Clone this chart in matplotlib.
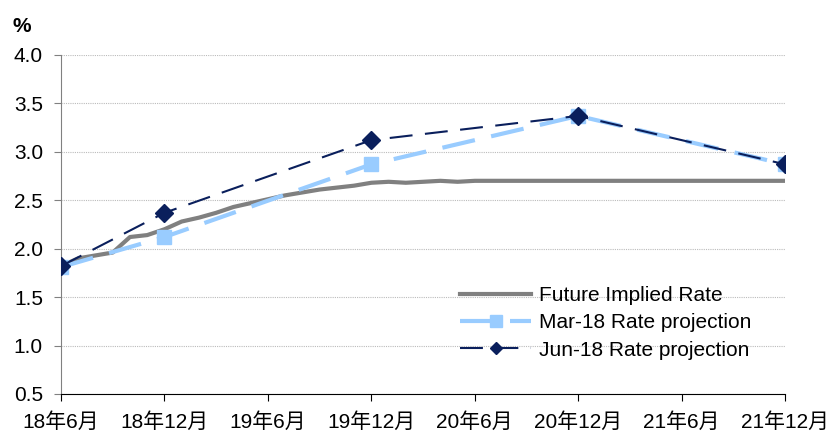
import matplotlib
matplotlib.use("Agg")
import matplotlib.pyplot as plt

plt.rcParams['font.family'] = ['Liberation Sans', 'Noto Sans CJK SC', 'DejaVu Sans']

# months since Jun-2018
tick_labels = ["18年6月", "18年12月", "19年6月", "19年12月", "20年6月", "20年12月", "21年6月", "21年12月"]
tick_months = [0, 6, 12, 18, 24, 30, 36, 42]

future_months = list(range(43))
future_rate = [1.82, 1.90, 1.93, 1.96, 2.12, 2.14, 2.20, 2.28, 2.32, 2.37,
               2.43, 2.47, 2.51, 2.55, 2.58, 2.61, 2.63, 2.65, 2.68, 2.69,
               2.68, 2.69, 2.70, 2.69, 2.70, 2.70, 2.70, 2.70, 2.70, 2.70,
               2.70, 2.70, 2.70, 2.70, 2.70, 2.70, 2.70, 2.70, 2.70, 2.70,
               2.70, 2.70, 2.70]

proj_months = [0, 6, 18, 30, 42]
mar18 = [1.81, 2.12, 2.87, 3.37, 2.87]
jun18 = [1.82, 2.37, 3.12, 3.37, 2.87]

fig = plt.figure(figsize=(8.29, 4.32), dpi=100)
ax = fig.add_axes([0.0736, 0.088, 0.8735, 0.785])

ax.plot(future_months, future_rate, color="#808080", lw=3, label="Future Implied Rate", zorder=2)
ax.plot(proj_months, mar18, color="#99CCFF", lw=3, dashes=(8, 4), marker="s", markersize=10,
        label="Mar-18 Rate projection", zorder=3)
ax.plot(proj_months, jun18, color="#0A1F5C", lw=1.5, dashes=(11, 6), marker="D", markersize=9,
        label="Jun-18 Rate projection", zorder=4)

ax.set_xlim(0, 42)
ax.set_ylim(0.5, 4.0)
ax.set_xticks(tick_months)
ax.set_xticklabels(tick_labels)
ax.set_yticks([0.5, 1.0, 1.5, 2.0, 2.5, 3.0, 3.5, 4.0])
ax.set_yticklabels(["0.5", "1.0", "1.5", "2.0", "2.5", "3.0", "3.5", "4.0"])
ax.tick_params(labelsize=15, length=5, colors="#000000")
ax.tick_params(axis="y", color="#808080", pad=8)
ax.tick_params(axis="x", pad=8)

ax.grid(axis="y", color="#BBBBBB", linestyle=(0, (1, 1)), lw=0.8)
ax.set_axisbelow(True)
for s in ["top", "right"]:
    ax.spines[s].set_visible(False)
ax.spines["left"].set_color("#808080")
ax.spines["bottom"].set_color("#000000")

fig.text(0.015, 0.925, "%", fontsize=15, fontweight="bold")

leg = ax.legend(loc="lower left", bbox_to_anchor=(0.54, 0.077), frameon=False, fontsize=15,
                handlelength=3.4, handletextpad=0.35, labelspacing=0.4, borderaxespad=0)
leg.legend_handles[1].set_markersize(8)
leg.legend_handles[2].set_markersize(6)

fig.savefig("out.png", dpi=100)
